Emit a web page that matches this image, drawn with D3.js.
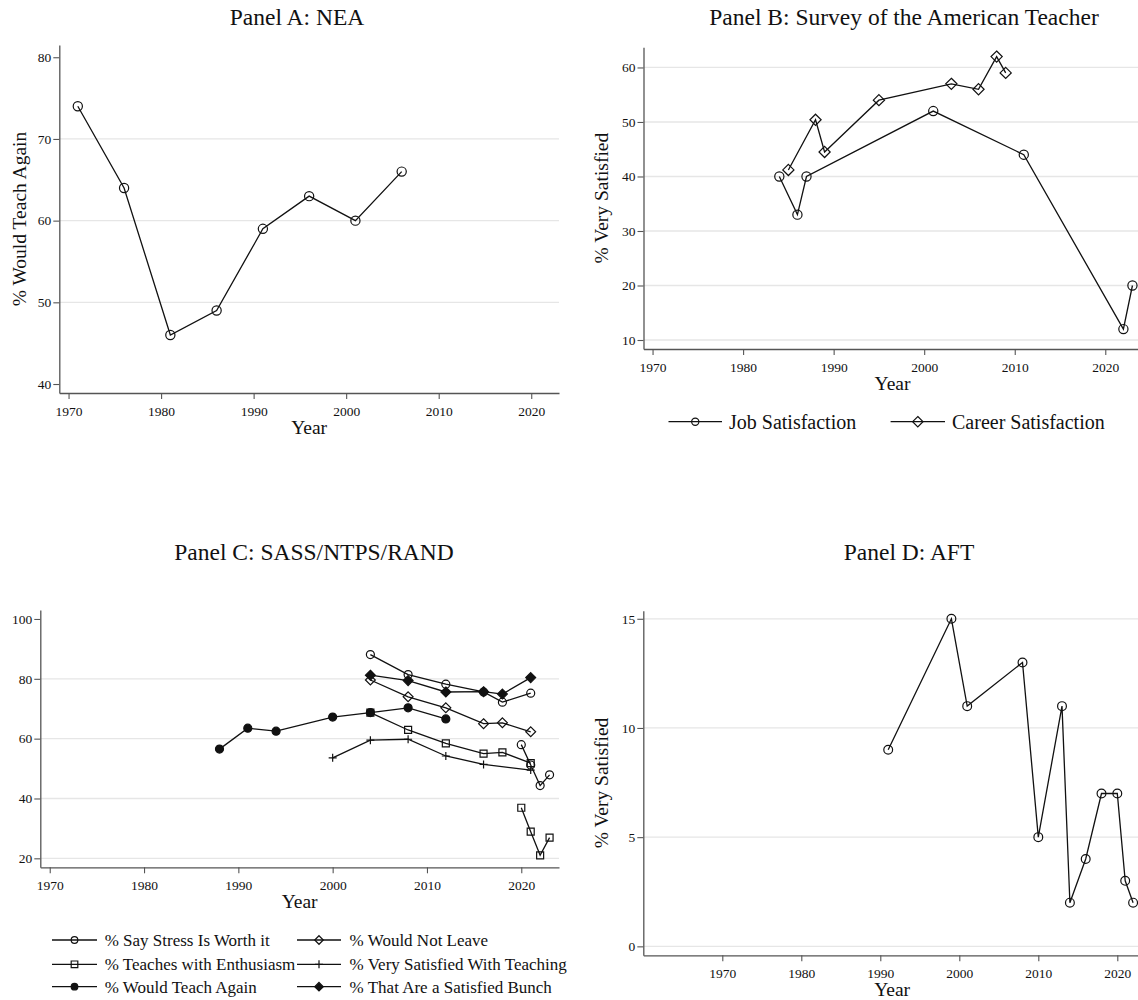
<!DOCTYPE html>
<html><head><meta charset="utf-8">
<script src="https://cdn.jsdelivr.net/npm/d3@7/dist/d3.min.js"></script>
<style>
html,body{margin:0;padding:0;background:#fff;}
svg text{font-family:"Liberation Serif","Times New Roman",Times,serif;fill:#111;}
</style></head>
<body>
<svg id="chart" width="1138" height="1000"></svg>
<script>
// ---------- DATA ----------
const yearTicks = [1970, 1980, 1990, 2000, 2010, 2020];

// Panel A: NEA
const neaYears = [1971, 1976, 1981, 1986, 1991, 1996, 2001, 2006];
const neaWouldTeachAgain = [74, 64, 46, 49, 59, 63, 60, 66];
const panelATicks = [40, 50, 60, 70, 80];

// Panel B: Survey of the American Teacher
const jobYears = [1984, 1986, 1987, 2001, 2011, 2022, 2023];
const jobSatisfaction = [40, 33, 40, 52, 44, 12, 20];
const careerYears = [1985, 1988, 1989, 1995, 2003, 2006, 2008, 2009];
const careerSatisfaction = [41.2, 50.4, 44.5, 54, 57, 56, 62, 59];
const panelBTicks = [10, 20, 30, 40, 50, 60];

// Panel C: SASS/NTPS/RAND
const sassYears = [2004, 2008, 2012, 2016, 2018, 2021];
const stressWorthIt = [88.1, 81.4, 78.2, 75.6, 72.2, 75.2];
const wouldNotLeave = [79.6, 74.0, 70.3, 65.0, 65.3, 62.3];
const teachesEnthusiasm = [68.7, 62.9, 58.4, 55.0, 55.4, 51.8];
const satisfiedBunch = [81.2, 79.4, 75.6, 75.7, 74.9, 80.4];
const verySatYears = [2000, 2004, 2008, 2012, 2016, 2021];
const verySatisfiedTeaching = [53.6, 59.5, 59.8, 54.2, 51.4, 49.5];
const teachAgainYears = [1988, 1991, 1994, 2000, 2004, 2008, 2012];
const wouldTeachAgainC = [56.5, 63.5, 62.5, 67.2, 68.7, 70.3, 66.6];
const randYears = [2020, 2021, 2022, 2023];
const stressWorthItRand = [58, 51.2, 44.3, 47.9];
const teachesEnthusiasmRand = [36.9, 28.9, 21, 26.9];
const panelCTicks = [20, 40, 60, 80, 100];
const legendCLabels = ["% Say Stress Is Worth it", "% Would Not Leave",
  "% Teaches with Enthusiasm", "% Very Satisfied With Teaching",
  "% Would Teach Again", "% That Are a Satisfied Bunch"];

// Panel D: AFT
const aftYears = [1991, 1999, 2001, 2008, 2010, 2013, 2014, 2016, 2018, 2020, 2021, 2022];
const aftVerySatisfied = [9, 15, 11, 13, 5, 11, 2, 4, 7, 7, 3, 2];
const panelDTicks = [0, 5, 10, 15];

// ---------- DRAWING ----------
const svg = d3.select("#chart");
const AXIS = "#555";
const GRID = "#e6e6e6";
const FONT = "'Liberation Serif','Times New Roman',Times,serif";

function marker(g, type, filled, x, y, s) {
  if (type === "plus") {
    g.append("path")
      .attr("d", `M${x - s},${y}H${x + s}M${x},${y - s}V${y + s}`)
      .attr("stroke", "#111").attr("stroke-width", 1.2).attr("fill", "none");
    return;
  }
  if (type === "circle") {
    g.append("circle").attr("cx", x).attr("cy", y).attr("r", s)
      .attr("fill", filled ? "#111" : "none").attr("stroke", "#111").attr("stroke-width", 1.2);
    return;
  }
  let d;
  if (type === "square") d = `M${x - s},${y - s}H${x + s}V${y + s}H${x - s}Z`;
  if (type === "diamond") d = `M${x},${y - s * 1.3}L${x + s * 1.3},${y}L${x},${y + s * 1.3}L${x - s * 1.3},${y}Z`;
  g.append("path").attr("d", d)
    .attr("fill", filled ? "#111" : "none").attr("stroke", "#111").attr("stroke-width", 1.2);
}

function panel(cfg) {
  const g = svg.append("g");
  const x = d3.scaleLinear().domain(cfg.xd).range([cfg.x0, cfg.x1]);
  const y = d3.scaleLinear().domain(cfg.yd).range([cfg.y0, cfg.y1]);

  // gridlines
  g.selectAll(".grid").data(cfg.grid).enter().append("line")
    .attr("x1", cfg.x0).attr("x2", cfg.x1)
    .attr("y1", d => y(d)).attr("y2", d => y(d))
    .attr("stroke", GRID).attr("stroke-width", 1.3);

  // axes
  const ax = g.append("g").attr("transform", `translate(0,${cfg.y0})`)
    .call(d3.axisBottom(x).tickValues(yearTicks).tickFormat(d3.format("d")).tickSize(6).tickSizeOuter(0).tickPadding(7));
  const ay = g.append("g").attr("transform", `translate(${cfg.x0},0)`)
    .call(d3.axisLeft(y).tickValues(cfg.yticks).tickFormat(d3.format("d")).tickSize(6).tickSizeOuter(0).tickPadding(2));
  [ax, ay].forEach(a => {
    a.attr("font-family", FONT);
    a.select(".domain").attr("stroke", AXIS).attr("stroke-width", 1.3);
    a.selectAll(".tick line").attr("stroke", AXIS).attr("stroke-width", 1.1);
    a.selectAll(".tick text").style("font-size", "13.5px").style("font-family", FONT).attr("fill", "#111");
  });

  // titles
  g.append("text").attr("x", cfg.titleX).attr("y", cfg.titleY).attr("text-anchor", "middle")
    .style("font-size", "23.5px").style("font-family", FONT).text(cfg.title);
  g.append("text").attr("x", (cfg.x0 + cfg.x1) / 2).attr("y", cfg.y0 + 41).attr("text-anchor", "middle")
    .style("font-size", "19.5px").style("font-family", FONT).text("Year");
  if (cfg.ytitle) {
    const cy = (cfg.y0 + cfg.y1) / 2;
    g.append("text").attr("transform", `translate(${cfg.ytitleX},${cy}) rotate(-90)`)
      .attr("text-anchor", "middle").style("font-size", "19.5px").style("font-family", FONT).text(cfg.ytitle);
  }

  // series
  const line = d3.line().x(d => x(d[0])).y(d => y(d[1]));
  cfg.series.forEach(s => {
    const pts = s.years.map((yr, i) => [yr, s.values[i]]);
    g.append("path").attr("d", line(pts)).attr("fill", "none")
      .attr("stroke", "#111").attr("stroke-width", 1.3);
  });
  cfg.series.forEach(s => {
    s.years.forEach((yr, i) => marker(g, s.marker, s.filled, x(yr), y(s.values[i]), s.size));
  });
  return g;
}

// Panel A
panel({
  x0: 59.3, x1: 559, xd: [1969, 2023], y0: 393, y1: 45, yd: [38.9, 81.5],
  yticks: panelATicks, grid: [50, 60, 70],
  title: "Panel A: NEA", titleX: 297, titleY: 25,
  ytitle: "% Would Teach Again", ytitleX: 26,
  series: [{years: neaYears, values: neaWouldTeachAgain, marker: "circle", filled: false, size: 4.6}]
});

// Panel B
const gB = panel({
  x0: 643.5, x1: 1141.5, xd: [1969, 2024], y0: 349, y1: 47.3, yd: [8.35, 63.7],
  yticks: panelBTicks, grid: panelBTicks,
  title: "Panel B: Survey of the American Teacher", titleX: 904, titleY: 25,
  ytitle: "% Very Satisfied", ytitleX: 608,
  series: [
    {years: jobYears, values: jobSatisfaction, marker: "circle", filled: false, size: 4.6},
    {years: careerYears, values: careerSatisfaction, marker: "diamond", filled: false, size: 4.3}
  ]
});
// legend B
[
  {x0: 668.5, x1: 722, tx: 729, label: "Job Satisfaction", marker: "circle", s: 3.6},
  {x0: 890.6, x1: 945, tx: 952, label: "Career Satisfaction", marker: "diamond", s: 4}
].forEach(l => {
  const yy = 421.7;
  gB.append("line").attr("x1", l.x0).attr("x2", l.x1).attr("y1", yy).attr("y2", yy)
    .attr("stroke", "#111").attr("stroke-width", 1.3);
  marker(gB, l.marker, false, (l.x0 + l.x1) / 2, yy, l.s);
  gB.append("text").attr("x", l.tx).attr("y", yy + 7).style("font-size", "20px").style("font-family", FONT).text(l.label);
});

// Panel C
const gC = panel({
  x0: 40.3, x1: 559, xd: [1969, 2024], y0: 867.3, y1: 610, yd: [17, 103],
  yticks: panelCTicks, grid: [20, 40, 60, 80],
  title: "Panel C: SASS/NTPS/RAND", titleX: 314, titleY: 560,
  ytitle: null,
  series: [
    {years: sassYears, values: stressWorthIt, marker: "circle", filled: false, size: 4},
    {years: randYears, values: stressWorthItRand, marker: "circle", filled: false, size: 4},
    {years: teachAgainYears, values: wouldTeachAgainC, marker: "circle", filled: true, size: 4},
    {years: sassYears, values: teachesEnthusiasm, marker: "square", filled: false, size: 3.5},
    {years: randYears, values: teachesEnthusiasmRand, marker: "square", filled: false, size: 3.5},
    {years: verySatYears, values: verySatisfiedTeaching, marker: "plus", filled: false, size: 4},
    {years: sassYears, values: wouldNotLeave, marker: "diamond", filled: false, size: 3.8},
    {years: sassYears, values: satisfiedBunch, marker: "diamond", filled: true, size: 3.8}
  ]
});
// legend C
const legC = [
  {marker: "circle", filled: false}, {marker: "diamond", filled: false},
  {marker: "square", filled: false}, {marker: "plus", filled: false},
  {marker: "circle", filled: true}, {marker: "diamond", filled: true}
];
const rowsY = [940, 964.3, 986.7];
legC.forEach((m, i) => {
  const col = i % 2, row = Math.floor(i / 2);
  const x0 = col === 0 ? 52 : 297, x1 = col === 0 ? 97 : 341;
  const tx = col === 0 ? 104.7 : 349.6;
  const yy = rowsY[row];
  gC.append("line").attr("x1", x0).attr("x2", x1).attr("y1", yy).attr("y2", yy)
    .attr("stroke", "#111").attr("stroke-width", 1.3);
  marker(gC, m.marker, m.filled, (x0 + x1) / 2, yy, m.marker === "plus" ? 4 : 3.3);
  gC.append("text").attr("x", tx).attr("y", yy + 6).style("font-size", "17px").style("font-family", FONT).text(legendCLabels[i]);
});

// Panel D
panel({
  x0: 643.3, x1: 1141, xd: [1960, 2023], y0: 955.3, y1: 610.7, yd: [-0.41, 15.37],
  yticks: panelDTicks, grid: panelDTicks,
  title: "Panel D: AFT", titleX: 909, titleY: 560,
  ytitle: "% Very Satisfied", ytitleX: 608,
  series: [{years: aftYears, values: aftVerySatisfied, marker: "circle", filled: false, size: 4.4}]
});
</script>
</body></html>
